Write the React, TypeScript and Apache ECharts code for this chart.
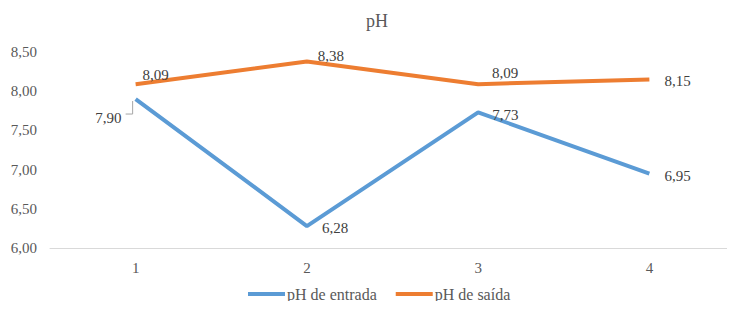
import React, { useEffect, useRef } from "react";
import * as echarts from "echarts";

const categories = ["1", "2", "3", "4"];
const phEntrada = [7.9, 6.28, 7.73, 6.95];
const phSaida = [8.09, 8.38, 8.09, 8.15];
const seriesNames = ["pH de entrada", "pH de saída"];

const fmt = (v: number) => v.toFixed(2).replace(".", ",");
const FONT = "Liberation Serif, Times New Roman, serif";

// label placement (style only)
const entradaLabels = [
  { position: "left", offset: [-9, 19] },
  { position: "right", offset: [10, 2] },
  { position: "right", offset: [9, 3] },
  { position: "right", offset: [10, 2] },
];
const saidaLabels = [
  { position: "top", offset: [20, 3] },
  { position: "top", offset: [24, 7] },
  { position: "top", offset: [27, 1] },
  { position: "right", offset: [10, 2] },
];

export default function App() {
  const ref = useRef<HTMLDivElement>(null);
  useEffect(() => {
    if (!ref.current) return;
    const chart = echarts.init(ref.current, undefined, { renderer: "svg" });
    const lbl = { fontFamily: FONT, fontSize: 15, color: "#404040" };
    chart.setOption({
      animation: false,
      textStyle: { fontFamily: FONT },
      title: {
        text: "pH",
        left: 361,
        top: 7,
        textStyle: { fontFamily: FONT, fontSize: 18, fontWeight: "normal", color: "#595959" },
      },
      legend: {
        bottom: 2,
        left: 243,
        itemWidth: 37,
        itemHeight: 4,
        itemGap: 19,
        icon: "rect",
        textStyle: { fontFamily: FONT, fontSize: 16, color: "#595959", padding: [0, 0, 0, -3] },
        data: seriesNames,
      },
      grid: { left: 50, width: 687, top: 52, height: 196 },
      xAxis: {
        type: "category",
        data: categories,
        boundaryGap: true,
        axisLine: { lineStyle: { color: "#d9d9d9", width: 1 } },
        axisTick: { show: false },
        axisLabel: { fontFamily: FONT, fontSize: 15, color: "#595959", margin: 12 },
      },
      yAxis: {
        type: "value",
        min: 6,
        max: 8.5,
        interval: 0.5,
        axisLine: { show: false },
        axisTick: { show: false },
        splitLine: { show: false },
        axisLabel: {
          fontFamily: FONT,
          fontSize: 15,
          color: "#595959",
          margin: 13,
          formatter: (v: number) => fmt(v),
        },
      },
      series: [
        {
          name: seriesNames[0],
          type: "line",
          data: phEntrada.map((v, i) => ({ value: v, label: entradaLabels[i] })),
          showSymbol: true,
          symbol: "circle",
          symbolSize: 0.01,
          lineStyle: { color: "#5B9BD5", width: 4 },
          itemStyle: { color: "#5B9BD5" },
          label: {
            show: true,
            formatter: (p: any) => fmt(p.value),
            ...lbl,
          },
        },
        {
          name: seriesNames[1],
          type: "line",
          data: phSaida.map((v, i) => ({ value: v, label: saidaLabels[i] })),
          showSymbol: true,
          symbol: "circle",
          symbolSize: 0.01,
          lineStyle: { color: "#ED7D31", width: 4 },
          itemStyle: { color: "#ED7D31" },
          label: {
            show: true,
            formatter: (p: any) => fmt(p.value),
            ...lbl,
          },
        },
      ],
    });
    const p = chart.convertToPixel({ seriesIndex: 0 }, [0, phEntrada[0]]) as number[];
    chart.setOption({
      graphic: [
        {
          type: "polyline",
          shape: {
            points: [
              [p[0] - 10, p[1] + 15],
              [p[0] - 3, p[1] + 15],
              [p[0] - 3, p[1] + 2],
            ],
          },
          style: { stroke: "#a6a6a6", lineWidth: 1, fill: "none" },
          silent: true,
        },
      ],
    });
    return () => chart.dispose();
  }, []);
  return <div ref={ref} style={{ width: 735, height: 309, margin: -8 }} />;
}
